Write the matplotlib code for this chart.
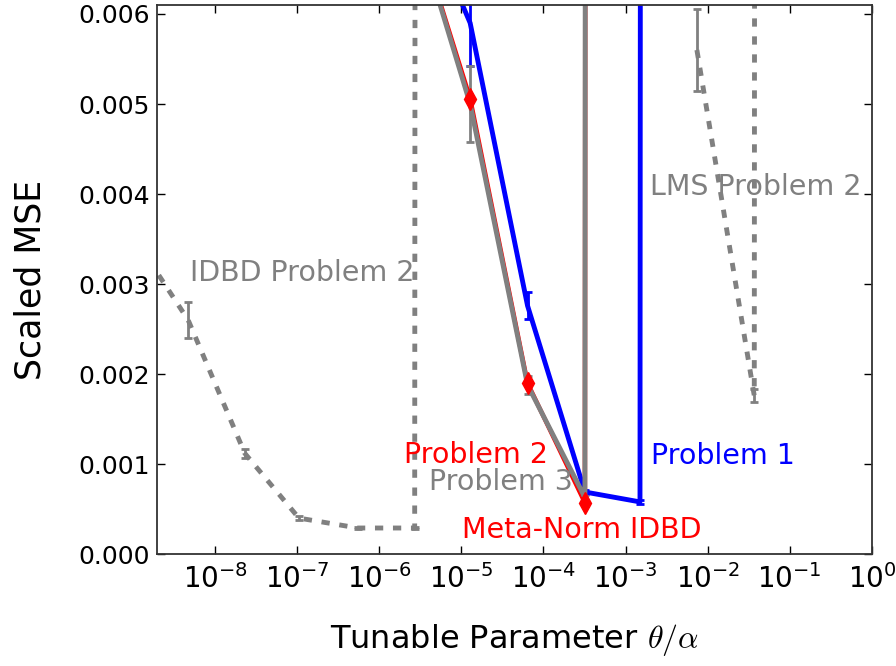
import numpy as np
import matplotlib
matplotlib.use('Agg')
import matplotlib.pyplot as plt

plt.rcParams['mathtext.fontset'] = 'cm'
plt.rcParams['font.family'] = ['DejaVu Sans']

# IDBD on problem 2 (dashed)
x_idbd = [9.0e-10, 4.7e-9, 2.3e-8, 1.05e-7, 5.5e-7, 2.7e-6, 1.3e-5]
y_idbd = [0.0036, 0.00260, 0.00112, 0.00040, 0.00029, 0.00029, 1.0]
e_idbd = [0.0, 0.00020, 0.00005, 0.00002, 0.00001, 0.00001, 0.0]

# LMS on problem 2 (dashed)
x_lms = [7.4e-3, 3.7e-2, 0.2]
y_lms = [0.00560, 0.00176, 1.0]
e_lms = [0.00045, 0.00007, 0.0]

# Meta-Norm IDBD, problems 1-3
x_meta = [2.56e-6, 1.28e-5, 6.4e-5, 3.2e-4, 1.5e-3, 8e-3]
y_p1 = [0.0074, 0.00590, 0.00276, 0.00069, 0.00058, 1.0]
e_p1 = [0.0, 0.00048, 0.00015, 0.00002, 0.00002, 0.0]
y_p2 = [0.0071, 0.00506, 0.00190, 0.00057, 1.0, 1.0]
y_p3 = [0.0071, 0.00500, 0.00188, 0.00063, 1.0, 1.0]
e_p3 = [0.0, 0.00042, 0.00010, 0.00003, 0.0, 0.0]

fig = plt.figure(figsize=(8.96, 6.66), dpi=100)
ax = fig.add_axes([0.175, 0.168, 0.798, 0.8245])

lw = 3.5
dash = (1.7, 2.0)
ax.errorbar(x_idbd, y_idbd, yerr=e_idbd, color='gray', lw=lw, dashes=dash,
            elinewidth=2, capsize=3, capthick=2)
ax.errorbar(x_lms, y_lms, yerr=e_lms, color='gray', lw=lw, dashes=dash,
            elinewidth=2, capsize=3, capthick=2)
ax.errorbar(x_meta, y_p1, yerr=e_p1, color='blue', lw=lw,
            elinewidth=2, capsize=3, capthick=2)
ax.plot(x_meta, y_p2, color='red', lw=lw - 0.3)
ax.errorbar(x_meta, y_p3, yerr=e_p3, color='gray', lw=lw,
            elinewidth=2, capsize=3, capthick=2)
ax.plot(x_meta[:4], y_p2[:4], 'd', color='red', ms=11, zorder=5)

ax.set_xscale('log')
ax.set_xlim(1.95e-9, 1)
ax.set_ylim(0, 0.0061)
ax.set_yticks([0, 0.001, 0.002, 0.003, 0.004, 0.005, 0.006])
ax.set_yticklabels(['%.3f' % v for v in ax.get_yticks()])
ax.set_xticks([1e-8, 1e-7, 1e-6, 1e-5, 1e-4, 1e-3, 1e-2, 1e-1, 1])

ax.tick_params(which='both', direction='in', top=True, right=True)
ax.tick_params(which='major', length=6, width=1)
ax.tick_params(which='minor', length=3, width=1)
ax.tick_params(axis='y', labelsize=18, pad=5)
ax.tick_params(axis='x', labelsize=20, pad=7)
for sp in ax.spines.values():
    sp.set_linewidth(1.3)
    sp.set_color('#333333')

ax.set_ylabel('Scaled MSE', fontsize=25, labelpad=22)
ax.set_xlabel(r'Tunable Parameter $\theta/\alpha$', fontsize=23, labelpad=20)

fs = 20.5
ax.text(2.05e-3, 0.00109, 'Problem 1', color='blue', fontsize=fs, va='center')
ax.text(1.15e-4, 0.00110, 'Problem 2', color='red', fontsize=fs, va='center', ha='right')
ax.text(2.25e-4, 0.00080, 'Problem 3', color='gray', fontsize=fs, va='center', ha='right')
ax.text(2.94e-4, 0.00027, 'Meta-Norm IDBD', color='red', fontsize=fs, va='center', ha='center')
ax.text(2.7e-6, 0.00312, 'IDBD Problem 2', color='gray', fontsize=fs, va='center', ha='right')
ax.text(3.9e-2, 0.00408, 'LMS Problem 2', color='gray', fontsize=fs, va='center', ha='center')

plt.savefig('out.png')
